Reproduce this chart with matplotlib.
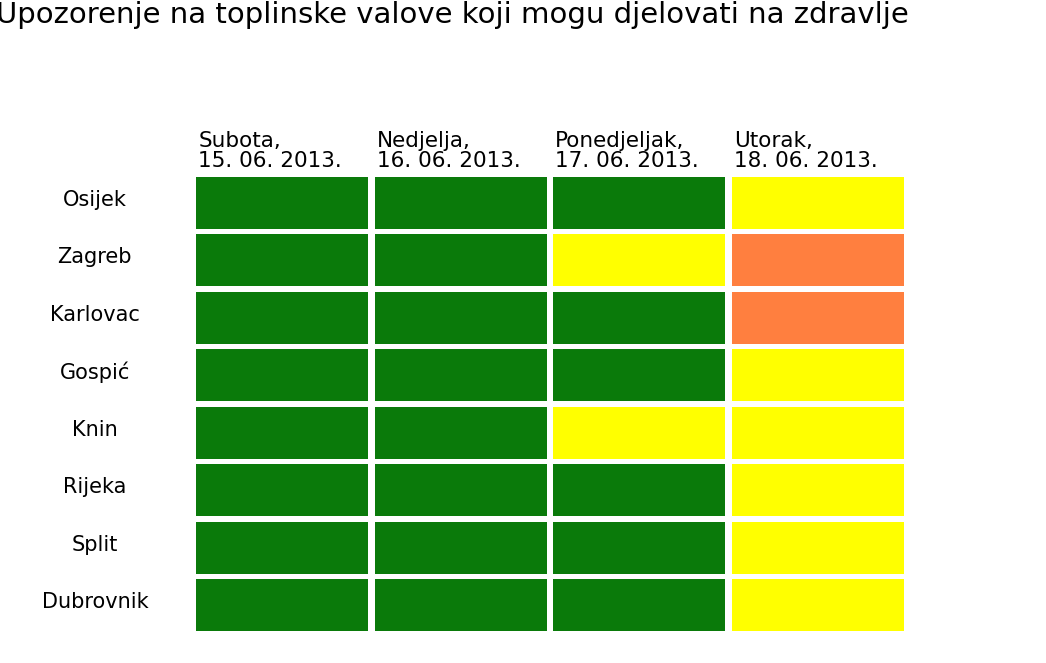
import matplotlib.pyplot as plt

title = "Upozorenje na toplinske valove koji mogu djelovati na zdravlje"
cities = ["Osijek", "Zagreb", "Karlovac", "Gospić", "Knin", "Rijeka", "Split", "Dubrovnik"]
days = ["Subota,\n15. 06. 2013.", "Nedjelja,\n16. 06. 2013.",
        "Ponedjeljak,\n17. 06. 2013.", "Utorak,\n18. 06. 2013."]
# warning level per city and day: 0 green, 1 yellow, 2 orange
levels = [
    [0, 0, 0, 1],
    [0, 0, 1, 2],
    [0, 0, 0, 2],
    [0, 0, 0, 1],
    [0, 0, 1, 1],
    [0, 0, 0, 1],
    [0, 0, 0, 1],
    [0, 0, 0, 1],
]
level_colors = ["#0a7a0a", "#ffff00", "#ff7f3f"]

W, H = 1046, 663
fig = plt.figure(figsize=(W / 100, H / 100), dpi=100)
ax = fig.add_axes([193 / W, (H - 634) / H, (907 - 193) / W, (634 - 174) / H])
ax.set_xlim(0, 4)
ax.set_ylim(8, 0)
ax.axis('off')

for r, row in enumerate(levels):
    for c, lv in enumerate(row):
        ax.barh(r + 0.5, 0.966, left=c + 0.017, height=0.9,
                color=level_colors[lv], edgecolor='none')

for r, city in enumerate(cities):
    ax.text(-0.55, r + 0.45, city, ha='center', va='center', fontsize=15)
for c, day in enumerate(days):
    ax.text(c + 0.03, -0.06, day, ha='left', va='bottom', fontsize=15.5,
            linespacing=1.0)

fig.text(-0.004, 1 - 15 / H, title, ha='left', va='center', fontsize=21)
fig.savefig('out.png', dpi=100)
